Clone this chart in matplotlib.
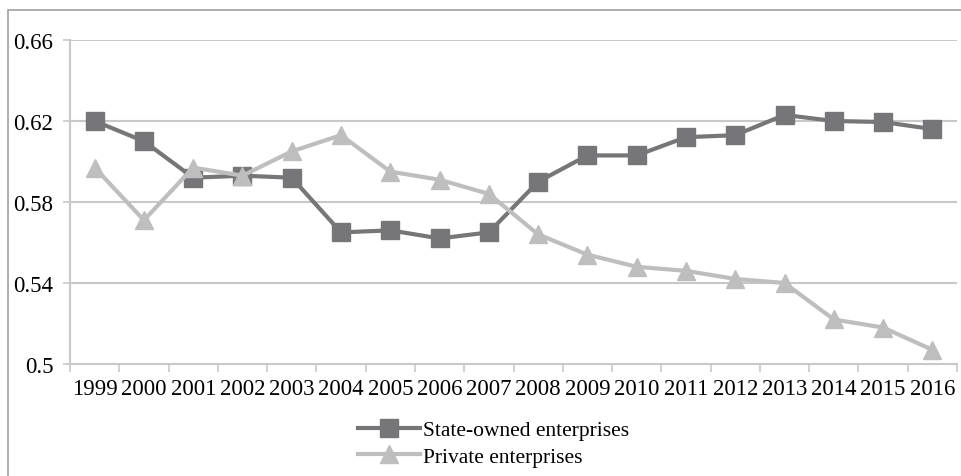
import numpy as np
import matplotlib.pyplot as plt
from matplotlib.patches import Rectangle

plt.rcParams['font.family'] = ['Liberation Serif', 'DejaVu Serif']

years = [str(y) for y in range(1999, 2017)]
state_owned = [0.620, 0.610, 0.592, 0.593, 0.592, 0.565, 0.566, 0.562, 0.565,
               0.590, 0.603, 0.603, 0.612, 0.613, 0.623, 0.620, 0.6195, 0.616]
private = [0.597, 0.571, 0.597, 0.593, 0.605, 0.613, 0.595, 0.591, 0.584,
           0.564, 0.554, 0.548, 0.546, 0.542, 0.540, 0.522, 0.518, 0.507]
y_ticks = [0.5, 0.54, 0.58, 0.62, 0.66]
y_labels = ['0.5', '0.54', '0.58', '0.62', '0.66']

dark = '#767679'
light = '#bebebf'
grid = '#c8c8c8'

fig = plt.figure(figsize=(9.61, 4.77), dpi=100)
# outer chart border (top and left edges)
fig.patches.append(Rectangle((8 / 961, -0.1), 1.1, (477 - 11) / 477 + 0.1,
                             transform=fig.transFigure, fill=False,
                             edgecolor='#a0a0a0', linewidth=1.2))

ax = fig.add_axes([70 / 961, 1 - 365 / 477, 887 / 961, 324 / 477])
x = np.arange(len(years))

ax.plot(x, state_owned, color=dark, linewidth=3, marker='s', markersize=12.5,
        label='State-owned enterprises', zorder=3)
ax.plot(x, private, color=light, linewidth=3, marker='^', markersize=13,
        label='Private enterprises', zorder=3)

ax.set_xlim(-0.5, len(years) - 0.5)
ax.set_ylim(0.5, 0.66)
ax.set_yticks(y_ticks)
ax.set_yticklabels(y_labels, fontsize=16.5)
ax.set_xticks(x)
ax.set_xticklabels(years, fontsize=16.5)
ax.tick_params(axis='x', length=0, pad=10)
ax.set_xticks(np.arange(-0.5, len(years)), minor=True)
ax.tick_params(axis='x', which='minor', length=6, color=grid, width=1.2)
ax.tick_params(axis='y', length=5, color=grid, width=1.2, pad=7)

for v in y_ticks[1:]:
    ax.axhline(v, color=grid, linewidth=1.5, zorder=1)

for side in ['top', 'right']:
    ax.spines[side].set_visible(False)
for side in ['left', 'bottom']:
    ax.spines[side].set_color(grid)
    ax.spines[side].set_linewidth(1.5)

fig.legend(loc='upper left', bbox_to_anchor=(358 / 961, 1 - 421 / 477),
           frameon=False, fontsize=15.5, handlelength=2.9, handletextpad=0.1,
           labelspacing=0.3, borderpad=0, borderaxespad=0)

fig.savefig('out.png', dpi=100)
